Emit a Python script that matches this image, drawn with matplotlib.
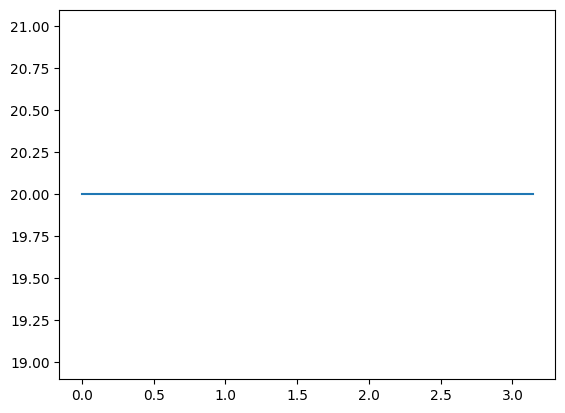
import matplotlib
matplotlib.use("Agg")
import matplotlib.pyplot as plt

# constant series
x_vals = [0.0, 3.14159]
y_vals = [20.0, 20.0]

fig, ax = plt.subplots(figsize=(6.4, 4.8), dpi=100)
ax.plot(x_vals, y_vals)

fig.savefig("out.png", dpi=100, bbox_inches="tight")
